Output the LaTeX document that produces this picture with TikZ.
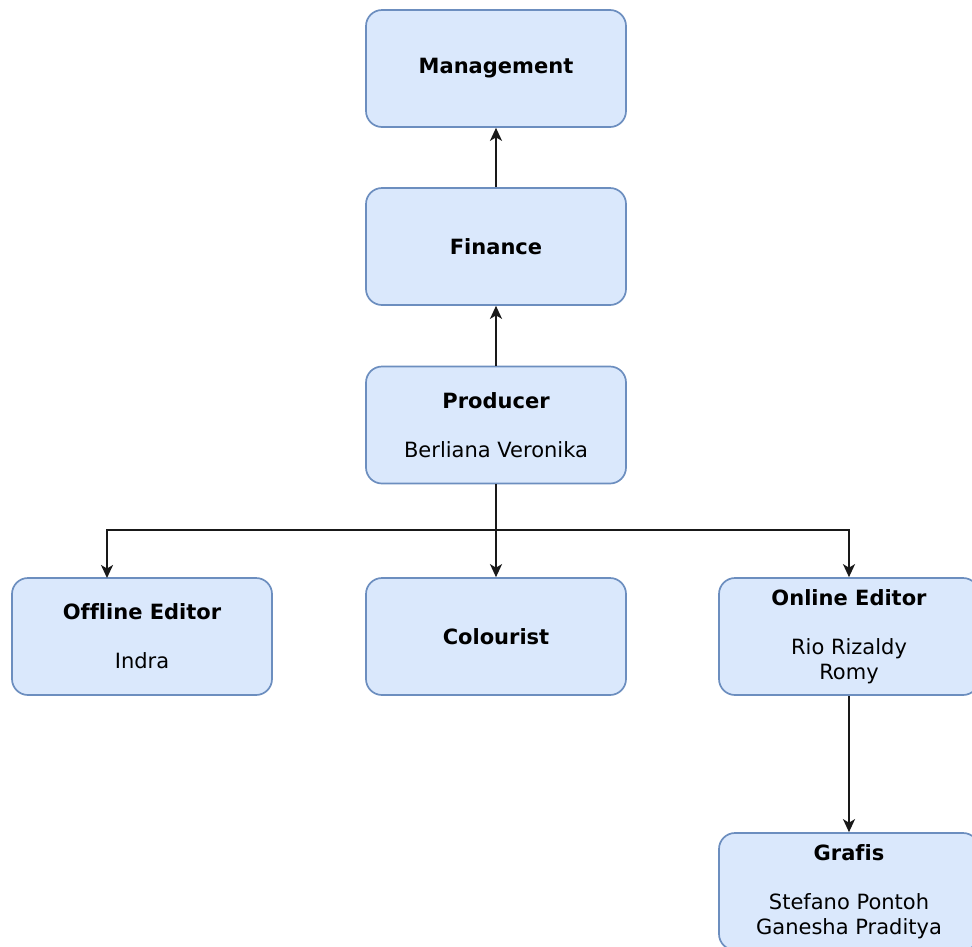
\documentclass[tikz,border=0pt]{standalone}
\usepackage{fontspec}
\setmainfont{DejaVu Sans}[Ligatures=NoCommon]
\usetikzlibrary{arrows.meta}
\definecolor{boxfill}{HTML}{DAE8FC}
\definecolor{boxline}{HTML}{6C8EBF}
\begin{document}
\begin{tikzpicture}[x=1pt,y=-1pt,
  orgbox/.style={draw=boxline, fill=boxfill, line width=1.7pt, rounded corners=16pt,
    minimum width=260pt, minimum height=117pt, inner sep=0pt, align=center,
    font=\fontsize{21}{24.5}\selectfont},
  conn/.style={draw=black!90, line width=1.9pt, -{Stealth[length=13pt,width=12pt,inset=3.5pt]}}]
\useasboundingbox (0,0) rectangle (972,946);
\node[orgbox] (mgmt) at (496,68.5) {\textbf{Management}};
\node[orgbox] (fin) at (496,246.5) {\textbf{Finance}};
\node[orgbox] (prod) at (496,425) {\textbf{Producer}\\[24.5pt]Berliana Veronika};
\node[orgbox] (off) at (142,636.5) {\textbf{Offline Editor}\\[24.5pt]Indra};
\node[orgbox] (col) at (496,636.5) {\textbf{Colourist}};
\node[orgbox] (on) at (849,636.5) {\textbf{Online Editor}\\[24.5pt]Rio Rizaldy\\Romy};
\node[orgbox] (graf) at (849,891.5) {\textbf{Grafis}\\[24.5pt]Stefano Pontoh\\Ganesha Praditya};
\coordinate (split) at (496,530);
\draw[conn] (prod) -- (fin);
\draw[conn] (fin) -- (mgmt);
\draw[conn] (prod.south) -- (split) -| (107,578);
\draw[conn] (prod.south) -- (col.north);
\draw[conn] (split) -| (on.north);
\draw[conn] (on) -- (graf);
\end{tikzpicture}
\end{document}
